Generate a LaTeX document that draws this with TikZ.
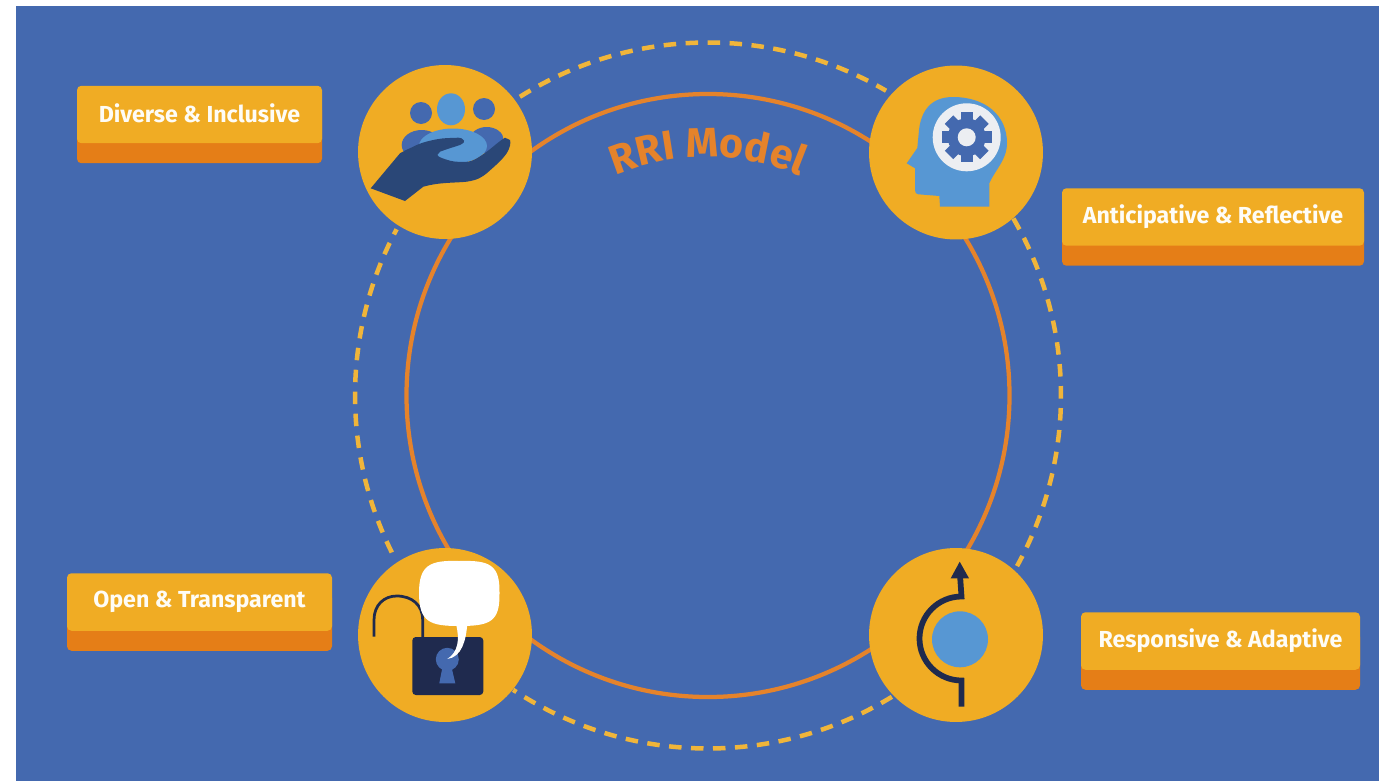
\documentclass[tikz,border=0pt]{standalone}
\usepackage{fontspec}
\setmainfont{Fira Sans}
\usepackage{xcolor}
\usetikzlibrary{calc, decorations.text}

\definecolor{backblue}{HTML}{4469AF}
\definecolor{badgeyellow}{HTML}{F0AC24}
\definecolor{ringorange}{HTML}{E5832B}
\definecolor{capshade}{HTML}{E57E17}
\definecolor{dashyellow}{HTML}{F0B53A}
\definecolor{lightblue}{HTML}{5797D3}
\definecolor{handblue}{HTML}{2A4777}
\definecolor{navy}{HTML}{1F2A4E}
\definecolor{gearwhite}{HTML}{ECEEF2}

\tikzset{
	badge/.style = {circle, fill = badgeyellow, minimum size = 3.48cm, inner sep = 0},
	captop/.style = {fill = badgeyellow, rounded corners = 2.5pt, minimum height = 1.15cm, inner sep = 0, text = white!96!badgeyellow, font = \fontsize{13.2}{15}\selectfont\bfseries},
	capbase/.style = {fill = capshade, rounded corners = 2.5pt, minimum height = 1.15cm, inner sep = 0},
	dashring/.style = {dashyellow, line width = 0.09cm, dash pattern = on 0.25cm off 0.19cm},
}

\begin{document}
\begin{tikzpicture}[x = 0.02cm, y = -0.02cm]
	\def\R{353};
	\def\r{301.5};

	\useasboundingbox (0,0) rectangle (1379,781);
	\fill[backblue] (16,6) rectangle (1379,781);

	\coordinate (centre) at (708,395.5);

	\draw[ringorange, line width = 0.085cm] (centre) circle [radius = \r];
	\foreach \from/\to in {237.8/300.3, 329.9/388.9, 58.6/123.5, 153.6/208.1}
		\draw[dashring] (centre) ++(\from:\R) arc [start angle = \from, end angle = \to, radius = \R];

	\path[decorate, decoration = {text along path, text align = center, text = {|\fontsize{23.5}{28}\selectfont\bfseries\color{ringorange}|RRI Model}}]
		(centre) ++(240:238.5) arc [start angle = 240, end angle = 300, radius = 238.5];

	\foreach \name/\x/\y in {hands/445/152, head/956/152.5, lock/445/635, turn/956/635}
		\node[badge] (\name badge) at (\x,\y) {};

	\foreach \name/\x/\y/\w/\txt in {
		diverse/199.5/114.5/245/\raisebox{1.5pt}{Diverse \& Inclusive},
		anticipative/1213/217/302/\raisebox{-1.5pt}{Anticipative \& Reflective},
		open/199.5/602/265/Open \& Transparent,
		responsive/1220.5/641/279/Responsive \& Adaptive}
	{
		\node[capbase, minimum width = \w*0.02cm] (\name base) at (\x,\y+20) {};
		\node[captop, minimum width = \w*0.02cm] (\name) at (\x,\y) {\txt};
	}

	\begin{scope}
		\fill[backblue] (421,113) circle [radius = 11];
		\fill[backblue] (484,109) circle [radius = 11];
		\fill[backblue] (421.7,145) ellipse [x radius = 20, y radius = 15];
		\fill[backblue] (486.7,140) ellipse [x radius = 17, y radius = 13];
		\fill[lightblue] (451,109.3) ellipse [x radius = 14, y radius = 16];
		\fill[lightblue] (453,146) ellipse [x radius = 34, y radius = 17.5];
		\fill[handblue] (370.7,188.3) -- (405,201) -- (423.3,186.7)
			.. controls (440,182) and (455,183) .. (466.7,181.7)
			.. controls (478,180) and (482,177) .. (486.7,173.3)
			.. controls (495,166) and (502,160) .. (506.7,153.3)
			.. controls (510,148) and (511,143) .. (510,140)
			-- (505,137.7)
			.. controls (498,142) and (492,148) .. (486.7,151.7)
			.. controls (478,158) and (473,161) .. (468.3,161.7)
			.. controls (460,162) and (455,162) .. (450,160.7)
			.. controls (444,159) and (438,157) .. (437.3,155)
			-- (440,151.7)
			.. controls (447,149) and (454,147) .. (460,145)
			.. controls (464,143) and (465,141) .. (464,140.7)
			.. controls (463,138) and (460,137.7) .. (458.3,137.7)
			.. controls (450,138) and (443,138) .. (436.7,139.3)
			.. controls (428,141) and (420,143) .. (413.3,146.7)
			.. controls (408,149) and (404,151) .. (400,153.3)
			-- cycle;
	\end{scope}

	\begin{scope}
		\coordinate (gear) at (966.7,137.3);
		\fill[lightblue] (940,206.7) -- (989.3,206.7) -- (989.3,183.3)
			.. controls (995,170) and (1007,160) .. (1007,143)
			.. controls (1007,115) and (985,97) .. (953,97)
			.. controls (930,97) and (921,112) .. (919,130)
			-- (917.3,148) -- (906.7,163.3) -- (915,168.3) -- (915,190)
			.. controls (915,193) and (916,194) .. (918.3,194.3)
			-- (939.3,196) -- cycle;
		\fill[gearwhite] (gear) circle [radius = 34];
		\fill[backblue] (gear) circle [radius = 19];
		\foreach \ang in {0,45,...,315}
			\fill[backblue, rotate around = {\ang:(gear)}] ($(gear)+(15,-6)$) rectangle ($(gear)+(25,6)$);
		\fill[gearwhite] (gear) circle [radius = 9];
	\end{scope}

	\begin{scope}
		\draw[navy, line width = 0.055cm] (374,636.7) -- (374,620)
			.. controls (374,605) and (384,596) .. (396.7,596)
			.. controls (412,596) and (422.7,605) .. (422.7,620) -- (422.7,637);
		\fill[navy, rounded corners = 2pt] (412.3,637) rectangle (483.3,695);
		\fill[backblue] (447.3,659.3) circle [radius = 11.5];
		\fill[backblue] (442.3,668) -- (439.3,683.3) -- (455.3,683.3) -- (451.7,668) -- cycle;
		\fill[white] (459,561) .. controls (490,560) and (500,565) .. (499.5,593)
			.. controls (500,622) and (490,626) .. (459,626)
			.. controls (430,626) and (419,622) .. (419,593)
			.. controls (419,565) and (430,560) .. (459,561) -- cycle;
		\fill[white] (456,624) .. controls (460,640) and (458,652) .. (447.3,659)
			.. controls (462,657) and (466,640) .. (467.3,624) -- cycle;
	\end{scope}

	\begin{scope}
		\fill[lightblue] (960,639.3) circle [radius = 28];
		\draw[navy, line width = 0.115cm] (961.5,706.7) -- (961.5,680.5)
			arc [start angle = 90, end angle = 270, radius = 42] -- (960,575);
		\fill[navy] (950.7,578.3) -- (969,578.3) -- (959.7,561.7) -- cycle;
	\end{scope}
\end{tikzpicture}
\end{document}
